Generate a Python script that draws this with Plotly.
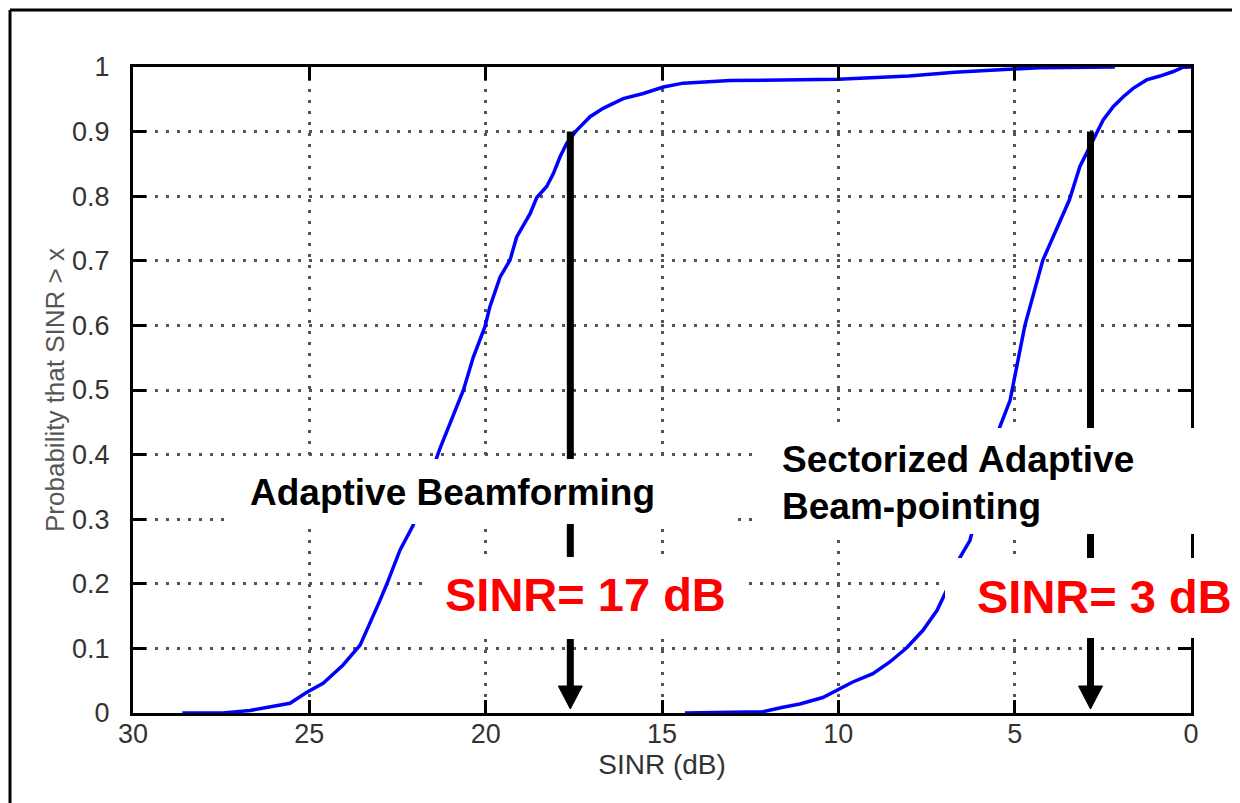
import plotly.graph_objects as go

# ---- data ----
beamforming_sinr = [28.6, 27.45, 26.68, 25.55, 25.07, 24.61, 24.05, 23.56, 23.0, 22.8, 22.43, 22.06,
                    21.30, 21.01, 20.63, 20.35, 20.02, 19.88, 19.59, 19.31, 19.12, 18.74, 18.55, 18.27, 18.08,
                    17.89, 17.70, 17.42, 17.04, 16.67, 16.10, 15.53, 14.96, 14.40, 13.07, 10.0, 8.0, 6.7,
                    5.5, 4.3, 2.16]
beamforming_prob = [0.0, 0.0, 0.004, 0.015, 0.032, 0.046, 0.074, 0.105, 0.174, 0.2, 0.252, 0.29,
                    0.409, 0.448, 0.5, 0.551, 0.598, 0.629, 0.675, 0.701, 0.737, 0.773, 0.798, 0.815, 0.835,
                    0.861, 0.882, 0.902, 0.923, 0.936, 0.951, 0.959, 0.969, 0.975, 0.979, 0.981, 0.986, 0.992,
                    0.996, 0.999, 1.0]

sectorized_sinr = [14.35, 13.56, 12.14, 11.57, 11.09, 10.44, 10.0, 9.59, 9.02, 8.54, 8.06, 7.6, 7.2, 6.93,
                   6.74, 6.55, 6.27, 5.42, 5.13, 4.71, 4.20, 3.45, 3.15, 3.01, 2.68, 2.49, 2.2, 1.92, 1.64,
                   1.26, 0.88, 0.50, 0.22, 0.0]
sectorized_prob = [0.0, 0.001, 0.002, 0.009, 0.014, 0.024, 0.036, 0.048, 0.061, 0.079, 0.101, 0.128, 0.159,
                   0.19, 0.221, 0.241, 0.267, 0.443, 0.484, 0.6, 0.701, 0.794, 0.846, 0.861, 0.897, 0.918,
                   0.939, 0.954, 0.967, 0.980, 0.986, 0.993, 0.9997, 1.0]

arrow_sinr = [17.6, 2.85]     # marked SINR at 90% probability
arrow_prob = 0.9

x_ticks = [30, 25, 20, 15, 10, 5, 0]
y_ticks = [0, 0.1, 0.2, 0.3, 0.4, 0.5, 0.6, 0.7, 0.8, 0.9, 1]

# ---- layout geometry (page has an 8px body margin) ----
OFF = 8
SCREEN_W, SCREEN_H = 1240, 803
W, H = SCREEN_W - OFF, SCREEN_H - OFF
PL, PR, PT, PB = 133, 1191, 67, 713          # plot area in screen pixels
ML, MR, MT, MB = PL - OFF, SCREEN_W - PR, PT - OFF, SCREEN_H - PB
PW, PH = PR - PL, PB - PT


def px_x(px):
    return (px - PL) / PW


def px_y(py):
    return (PB - py) / PH


AXFONT = "Liberation Sans, Arial, sans-serif"

fig = go.Figure()
fig.add_trace(go.Scatter(x=beamforming_sinr, y=beamforming_prob, mode="lines",
                         line=dict(color="#0000ff", width=3.5), hoverinfo="skip", showlegend=False))
fig.add_trace(go.Scatter(x=sectorized_sinr, y=sectorized_prob, mode="lines",
                         line=dict(color="#0000ff", width=3.5), hoverinfo="skip", showlegend=False))

shapes = []
# outer frame (left and top edges)
shapes.append(dict(type="line", xref="paper", yref="paper", x0=px_x(10), x1=px_x(10),
                   y0=px_y(SCREEN_H + 5), y1=px_y(10), line=dict(color="black", width=3), layer="above"))
shapes.append(dict(type="line", xref="paper", yref="paper", x0=px_x(10), x1=px_x(SCREEN_W + 5),
                   y0=px_y(10), y1=px_y(10), line=dict(color="black", width=3), layer="above"))

# arrows
head_half = 12 / PW * 30      # dB
head_top = 27 / PH
head_tip = 4 / PH
for xa in arrow_sinr:
    shapes.append(dict(type="line", xref="x", yref="y", x0=xa, x1=xa, y0=arrow_prob, y1=head_top,
                       line=dict(color="black", width=7), layer="above"))
    shapes.append(dict(type="path", xref="x", yref="y",
                       path=f"M {xa - head_half},{head_top} L {xa + head_half},{head_top} L {xa},{head_tip} Z",
                       fillcolor="black", line=dict(color="black", width=1), layer="above"))

# white label boxes
for (x0, x1, y0, y1) in [(226, 734, 459, 524), (425, 745, 557, 639),
                         (757, 1205, 428, 534), (945, 1245, 558, 638)]:
    shapes.append(dict(type="rect", xref="paper", yref="paper", x0=px_x(x0), x1=px_x(x1),
                       y0=px_y(y1), y1=px_y(y0), fillcolor="white", line=dict(width=0), layer="above"))

annotations = []
for text, xl, yc, size, color in [
    ("Adaptive Beamforming", 248, 492.5, 37, "black"),
    ("Sectorized Adaptive", 780, 460, 37, "black"),
    ("Beam-pointing", 780, 506.7, 37, "black"),
    ("SINR= 17 dB", 443, 594, 47, "#ff0000"),
    ("SINR= 3 dB", 975, 596, 47, "#ff0000"),
]:
    annotations.append(dict(text=f"<b>{text}</b>", xref="paper", yref="paper", x=px_x(xl), y=px_y(yc),
                            xanchor="left", yanchor="middle", showarrow=False,
                            font=dict(family="Liberation Sans, Arial, sans-serif", size=size, color=color)))

axis_common = dict(showline=True, linecolor="black", linewidth=3, mirror="ticks", ticks="inside",
                   ticklen=13, tickwidth=3, tickcolor="black", showgrid=True, gridcolor="#555555",
                   gridwidth=2.5, griddash="3px,8px", zeroline=False,
                   tickfont=dict(family=AXFONT, size=27, color="#333333"))

fig.update_layout(
    width=W, height=H, margin=dict(l=ML, r=MR, t=MT, b=MB),
    paper_bgcolor="white", plot_bgcolor="white",
    xaxis=dict(range=[30, 0], tickvals=x_ticks, ticktext=[str(v) for v in x_ticks],
               title=dict(text="SINR (dB)", font=dict(family=AXFONT, size=28, color="#333333"), standoff=6),
               ticklabelstandoff=-5, **axis_common),
    yaxis=dict(range=[0, 1], tickvals=y_ticks, ticktext=[f"{v:g}" for v in y_ticks],
               title=dict(text="Probability that SINR > x", font=dict(family=AXFONT, size=26, color="#555555"),
                          standoff=0),
               ticklabelstandoff=15, **axis_common),
    shapes=shapes, annotations=annotations, showlegend=False,
)

fig.write_html("out.html")
